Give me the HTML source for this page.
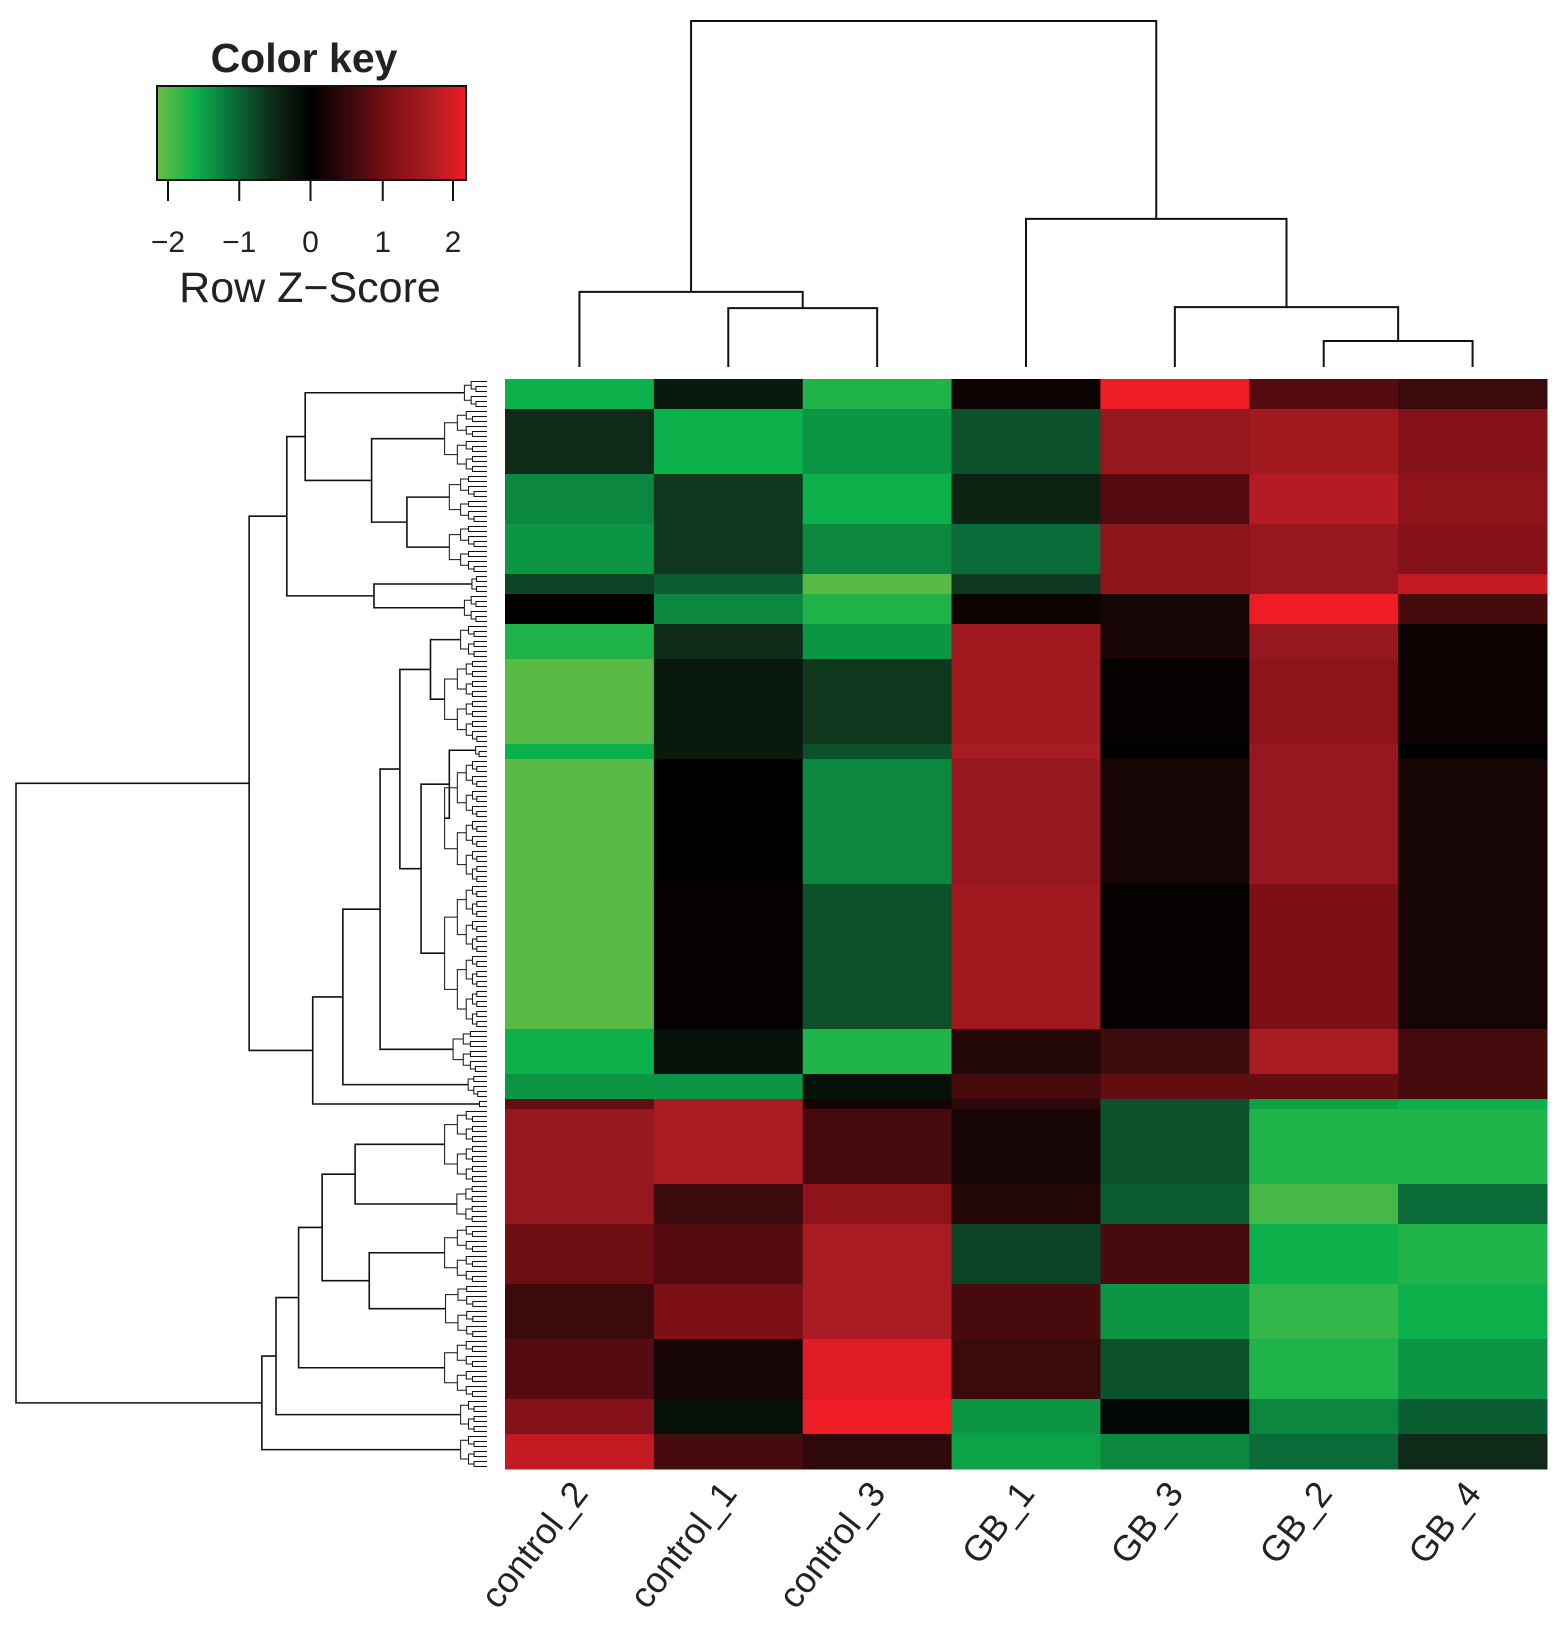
<!DOCTYPE html>
<html><head><meta charset="utf-8"><style>
html,body{margin:0;padding:0;background:#fff;}
svg{display:block;font-family:"Liberation Sans",Arial,sans-serif;}
</style></head><body>
<svg id="chart" width="1559" height="1635" viewBox="0 0 1559 1635" xmlns="http://www.w3.org/2000/svg">
<defs>
<linearGradient id="keyGrad" x1="0" x2="1" y1="0" y2="0">
<stop offset="0" stop-color="#6abd45"/><stop offset="0.125" stop-color="#0db14b"/><stop offset="0.25" stop-color="#0a6b38"/><stop offset="0.375" stop-color="#0f2a18"/><stop offset="0.5" stop-color="#000"/><stop offset="0.625" stop-color="#3a0a0c"/><stop offset="0.75" stop-color="#7c1015"/><stop offset="0.875" stop-color="#a81b22"/><stop offset="1" stop-color="#ee1c25"/>
</linearGradient>
</defs>
<g>
<text x="304" y="72" font-size="41" font-weight="bold" text-anchor="middle" fill="#222">Color key</text>
<rect x="157" y="86" width="309" height="94" fill="url(#keyGrad)" stroke="#111" stroke-width="2"/>
<g id="keyTicks"></g>
<text x="310" y="302" font-size="43" text-anchor="middle" fill="#222">Row Z−Score</text>
</g>
<g id="heat"></g>
<g id="coldendro" stroke="#111" stroke-width="2" fill="none"></g>
<g id="rowdendro" stroke="#111" stroke-width="1.6" fill="none"></g>
<g id="collabels"></g>
</svg>
<script>
const columns = ["control_2","control_1","control_3","GB_1","GB_3","GB_2","GB_4"];
const keyTicks = [-2,-1,0,1,2];
// row blocks: number of rows in each block
const blockRows = [6,13,10,10,4,6,7,17,3,25,29,9,5,2,15,8,12,11,12,7,7];
// z-score per block, one array per column
const zControl2 = [-1.5,-0.5,-1.2,-1.3,-0.7,0.0,-1.6,-1.9,-1.5,-1.9,-1.9,-1.5,-1.3,0.8,1.3,1.3,0.9,0.5,0.7,1.1,1.7];
const zControl1 = [-0.3,-1.5,-0.6,-0.6,-0.9,-1.2,-0.5,-0.3,-0.3,0.0,0.05,-0.2,-1.3,1.5,1.5,0.5,0.7,1.0,0.2,-0.2,0.6];
const zControl3 = [-1.6,-1.3,-1.5,-1.2,-1.9,-1.6,-1.3,-0.6,-0.8,-1.2,-0.8,-1.6,-0.2,0.2,0.6,1.2,1.5,1.5,1.9,2.0,0.4];
const zGB1 = [0.1,-0.8,-0.4,-1.0,-0.6,0.1,1.4,1.4,1.5,1.3,1.4,0.3,0.6,0.4,0.2,0.3,-0.7,0.6,0.5,-1.3,-1.4];
const zGB3 = [2.0,1.3,0.7,1.2,1.2,0.2,0.2,0.05,0.0,0.2,0.05,0.5,0.8,-0.8,-0.8,-0.9,0.6,-1.3,-0.8,-0.1,-1.2];
const zGB2 = [0.7,1.4,1.6,1.3,1.3,2.0,1.3,1.2,1.3,1.3,1.0,1.5,0.8,-1.4,-1.6,-1.8,-1.5,-1.7,-1.6,-1.2,-1.0];
const zGB4 = [0.5,1.1,1.2,1.1,1.7,0.6,0.1,0.1,0.0,0.2,0.2,0.6,0.6,-1.5,-1.6,-1.0,-1.6,-1.5,-1.3,-0.9,-0.5];
const zCols = [zControl2,zControl1,zControl3,zGB1,zGB3,zGB2,zGB4];
// column dendrogram: [height, left, right], leaves = column index
const colTree = [100,[21.7,0,[17,1,2]],[42.8,3,[17.3,4,[7.5,5,6]]]];
// row dendrogram: [height, left, right], leaves = block index
const rowTree = [100,
  [50.5,
    [42.5,[38.6,0,[24.5,1,[17,2,3]]],[24,4,5]],
    [37,[30.6,[22.7,[18.5,[12,6,7],[14,[8,8,9],10]],11],12],13]],
  [47.8,[44.8,[40,[35,[28,14,15],[25,16,17]],18],19],20]];

const NS="http://www.w3.org/2000/svg";
const HX0=505,HX1=1547,HY0=379,HY1=1469;
const totalRows=blockRows.reduce((a,b)=>a+b,0);
const colW=(HX1-HX0)/columns.length, rowH=(HY1-HY0)/totalRows;
const xCol=i=>HX0+i*colW, yRow=r=>HY0+r*rowH;
const keyX=v=>157+(v+2)/4*309+(v===-2?11:0)-(v===2?13:0)+(v===-1?5:0)-(v===1?6:0)+(v===0?-1:0);
const stops=[[-2,[106,189,69]],[-1.5,[13,177,75]],[-1,[10,107,56]],[-0.5,[15,42,24]],[0,[0,0,0]],[0.5,[58,10,12]],[1,[124,16,21]],[1.5,[168,27,34]],[2,[238,28,37]]];
function color(z){z=Math.max(-2,Math.min(2,z));for(let i=0;i<stops.length-1;i++){const [a,ca]=stops[i],[b,cb]=stops[i+1];if(z<=b){const t=(z-a)/(b-a);return `rgb(${ca.map((c,k)=>Math.round(c+(cb[k]-c)*t)).join(',')})`;}}return 'rgb(238,28,37)';}
function mk(tag,attrs,parent){const e=document.createElementNS(NS,tag);for(const k in attrs)e.setAttribute(k,attrs[k]);parent.appendChild(e);return e;}

// key ticks
const kt=document.getElementById('keyTicks');
keyTicks.forEach(v=>{const x=keyX(v);
  const l=mk('line',{x1:x,x2:x,y1:180,y2:201,stroke:'#111','stroke-width':2},kt);
  
  
  const t=mk('text',{x:x,y:252,'font-size':30,'text-anchor':'middle',fill:'#222'},kt);
  t.textContent=(v<0?'−':'')+Math.abs(v);
  
  
});

// heatmap cells
const heat=document.getElementById('heat');
const blockStart=[];let acc=0;blockRows.forEach(n=>{blockStart.push(acc);acc+=n;});
zCols.forEach((arr,ci)=>{arr.forEach((z,bi)=>{
  const r=mk('rect',{x:xCol(ci),y:yRow(blockStart[bi]),width:colW+0.5,height:blockRows[bi]*rowH+0.5,fill:color(z)},heat);
  
  
});});

// column dendrogram
const cd=document.getElementById('coldendro');
const CY0=367,CK=3.46;
function drawCol(n){ if(typeof n==='number') return {x:xCol(n)+colW/2,y:CY0};
  const a=drawCol(n[1]),b=drawCol(n[2]),y=CY0-n[0]*CK;
  const p=mk('path',{d:`M${a.x},${a.y}V${y}H${b.x}V${b.y}`},cd);
  
  
  return {x:(a.x+b.x)/2,y:y};}
drawCol(colTree);

// row dendrogram
const rd=document.getElementById('rowdendro');
const RX0=487,RK=4.71;
function comb(r0,r1,h){
  if(r1-r0<=1) return {x:RX0,y:yRow(r0)+rowH/2};
  const m=Math.floor((r0+r1)/2);
  const a=comb(r0,m,h*0.7),b=comb(m,r1,h*0.7),x=RX0-h*RK;
  mk('path',{d:`M${a.x},${a.y}H${x}V${b.y}H${b.x}`,'stroke-width':1},rd);
  return {x:x,y:(a.y+b.y)/2};}
function drawRow(n){ if(typeof n==='number') return comb(blockStart[n],blockStart[n]+blockRows[n],Math.min(9,blockRows[n]*0.8));
  const a=drawRow(n[1]),b=drawRow(n[2]),x=RX0-n[0]*RK;
  const p=mk('path',{d:`M${a.x},${a.y}H${x}V${b.y}H${b.x}`},rd);
  
  
  return {x:x,y:(a.y+b.y)/2};}
drawRow(rowTree);

// column labels
const cl=document.getElementById('collabels');
columns.forEach((c,i)=>{const x=xCol(i)+colW/2+10,y=1494;
  const t=mk('text',{x:x,y:y,'font-size':36,'text-anchor':'end',fill:'#222',transform:`rotate(-52 ${x} ${y})`},cl);
  t.textContent=c;
  
  
});
</script>
</body></html>
